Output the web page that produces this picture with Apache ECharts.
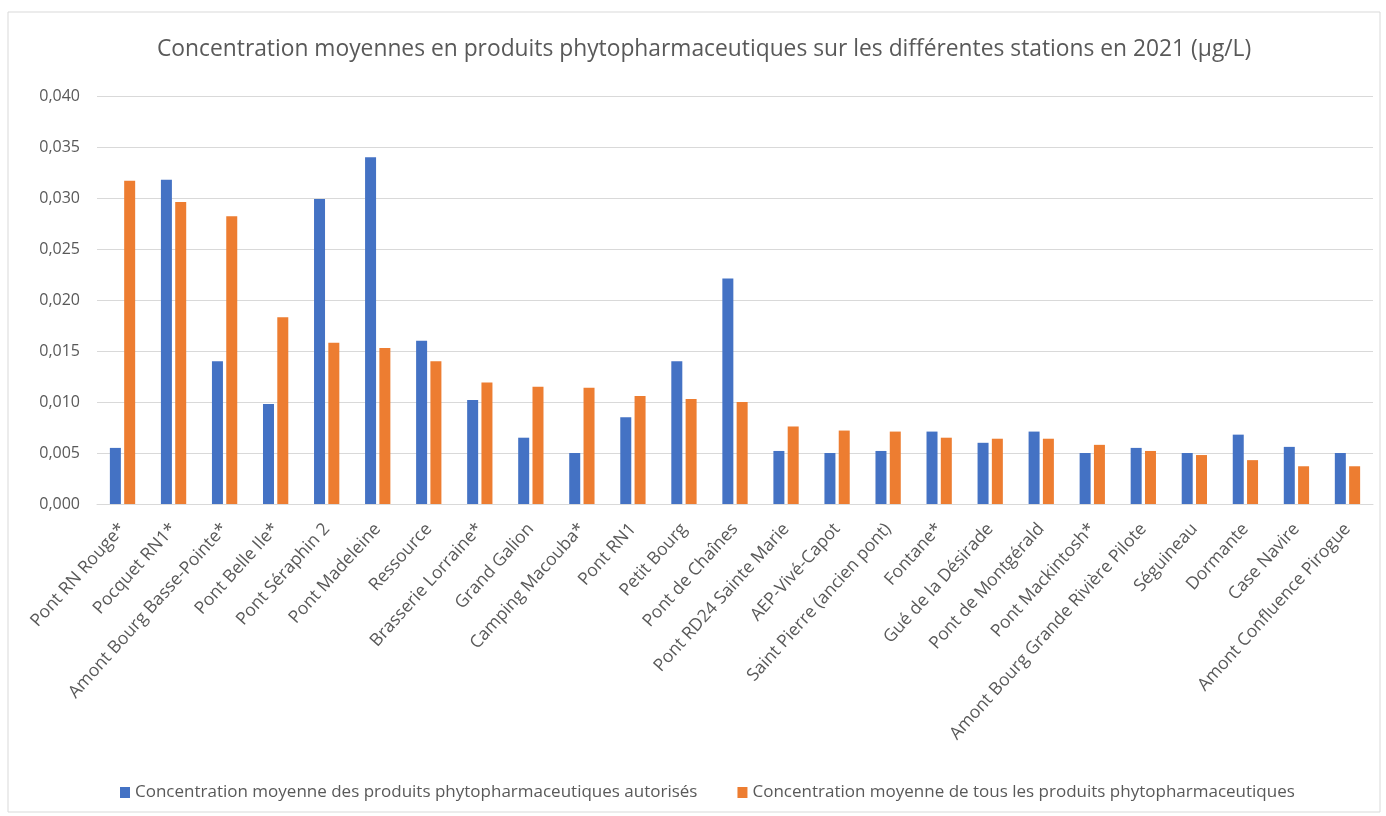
<!DOCTYPE html>
<html>
<head>
<meta charset="utf-8">
<title>Concentration moyennes 2021</title>
<script src="https://cdn.jsdelivr.net/npm/echarts@6/dist/echarts.min.js"></script>
<style>
  html, body { margin: 0; padding: 0; background: #ffffff; }
  #chart { width: 1386px; height: 816px; }
</style>
</head>
<body>
<div id="chart"></div>
<script>
// stations
var stations = [
  'Pont RN Rouge*', 'Pocquet RN1*', 'Amont Bourg Basse-Pointe*', 'Pont Belle Ile*',
  'Pont Séraphin 2', 'Pont Madeleine', 'Ressource', 'Brasserie Lorraine*',
  'Grand Galion', 'Camping Macouba*', 'Pont RN1', 'Petit Bourg', 'Pont de Chaînes',
  'Pont RD24 Sainte Marie', 'AEP-Vivé-Capot', 'Saint Pierre (ancien pont)', 'Fontane*',
  'Gué de la Désirade', 'Pont de Montgérald', 'Pont Mackintosh*',
  'Amont Bourg Grande Rivière Pilote', 'Séguineau', 'Dormante', 'Case Navire',
  'Amont Confluence Pirogue'
];
// concentration moyenne des produits autorisés (µg/L)
var autorises = [
  0.0055, 0.0318, 0.0140, 0.0098, 0.0299, 0.0340, 0.0160, 0.0102,
  0.0065, 0.0050, 0.0085, 0.0140, 0.0221, 0.0052, 0.0050, 0.0052, 0.0071,
  0.0060, 0.0071, 0.0050, 0.0055, 0.0050, 0.0068, 0.0056, 0.0050
];
// concentration moyenne de tous les produits (µg/L)
var tousProduits = [
  0.0317, 0.0296, 0.0282, 0.0183, 0.0158, 0.0153, 0.0140, 0.0119,
  0.0115, 0.0114, 0.0106, 0.0103, 0.0100, 0.0076, 0.0072, 0.0071, 0.0065,
  0.0064, 0.0064, 0.0058, 0.0052, 0.0048, 0.0043, 0.0037, 0.0037
];
var serieNames = [
  'Concentration moyenne des produits phytopharmaceutiques autorisés',
  'Concentration moyenne de tous les produits phytopharmaceutiques'
];

var textFont = "'Open Sans', sans-serif";
var myChart = echarts.init(document.getElementById('chart'));
myChart.setOption({
  animation: false,
  color: ['#4472C4', '#ED7D31'],
  textStyle: { fontFamily: textFont },
  graphic: [{
    type: 'rect',
    shape: { x: 8, y: 12, width: 1372, height: 800 },
    style: { fill: 'none', stroke: '#D9D9D9', lineWidth: 1 },
    silent: true
  }],
  title: {
    text: 'Concentration moyennes en produits phytopharmaceutiques sur les différentes stations en 2021 (µg/L)',
    left: 152,
    top: 33,
    textStyle: { color: '#595959', fontSize: 22.8, fontWeight: 'normal', fontFamily: textFont }
  },
  legend: {
    data: serieNames,
    bottom: 10,
    left: 115,
    itemWidth: 10,
    itemHeight: 11,
    itemGap: 40,
    icon: 'rect',
    textStyle: { color: '#595959', fontSize: 17, fontFamily: textFont }
  },
  grid: {
    left: 97,
    right: 13,
    top: 96,
    bottom: 312
  },
  xAxis: {
    type: 'category',
    data: stations,
    axisTick: { show: false },
    axisLine: { lineStyle: { color: '#D9D9D9', width: 1 } },
    axisLabel: {
      interval: 0,
      rotate: 48,
      margin: 22,
      color: '#595959',
      fontSize: 17.5,
      fontFamily: textFont
    }
  },
  yAxis: {
    type: 'value',
    min: 0,
    max: 0.04,
    interval: 0.005,
    axisLine: { show: false },
    axisTick: { show: false },
    splitLine: { lineStyle: { color: '#D9D9D9', width: 1 } },
    axisLabel: {
      margin: 17,
      color: '#595959',
      fontSize: 16,
      fontFamily: textFont,
      formatter: function (v) { return v.toFixed(3).replace('.', ','); }
    }
  },
  series: [{
    name: serieNames[0],
    type: 'bar',
    data: autorises,
    barWidth: 11,
    barGap: '30%'
  }, {
    name: serieNames[1],
    type: 'bar',
    data: tousProduits,
    barWidth: 11,
    barGap: '30%'
  }]
});
</script>
</body>
</html>
